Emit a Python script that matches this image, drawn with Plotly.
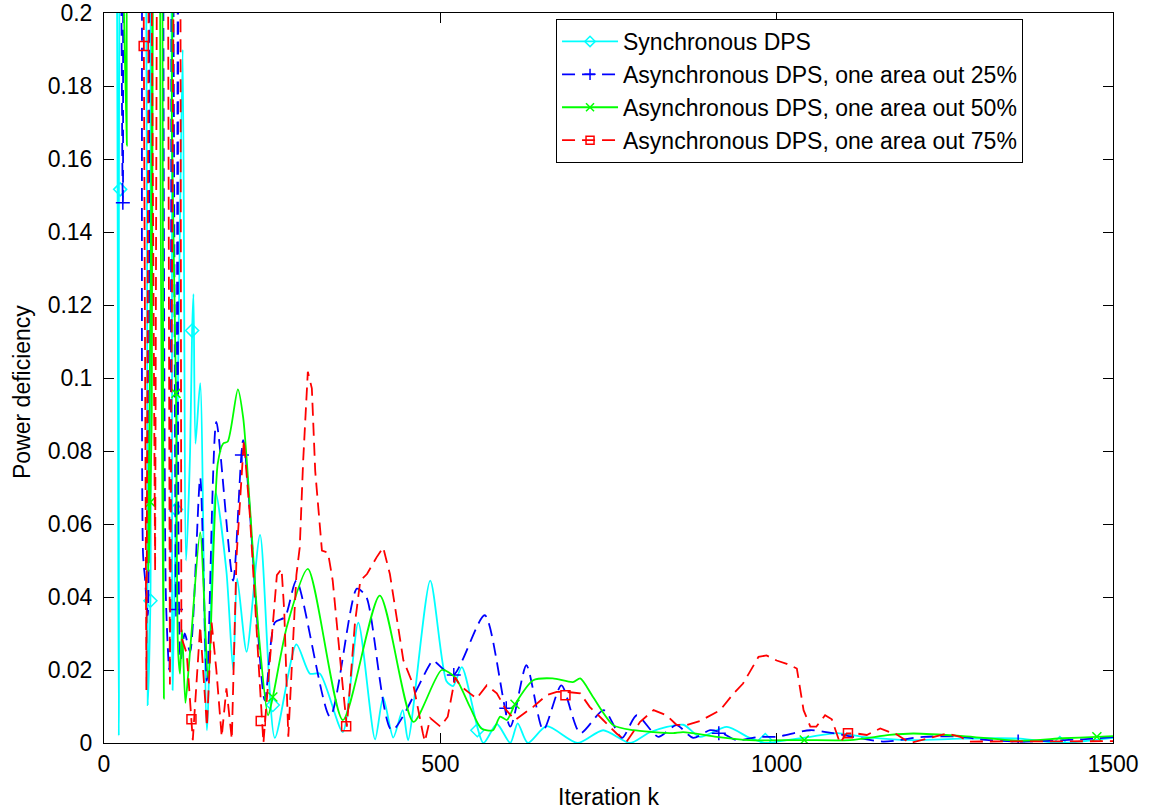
import plotly.graph_objects as go

# ---------------- data ----------------
series_names = [
    "Synchronous DPS",
    "Asynchronous DPS, one area out 25%",
    "Asynchronous DPS, one area out 50%",
    "Asynchronous DPS, one area out 75%",
]

sync_x = [0, 18, 22, 25, 46, 62, 65, 69, 71, 83, 98, 102, 110, 117, 122, 128, 131, 133, 136, 143, 153, 166,
          182, 192, 198, 212, 232, 254, 286, 306, 321, 355, 378, 403, 415, 430, 444, 452, 485, 509, 519, 532,
          564, 584, 604, 615, 630, 658, 704, 742, 782, 812, 861, 886, 926, 960, 985, 1005, 1050, 1090, 1128,
          1203, 1273, 1362, 1421, 1500]
sync_y = [0.45, 0.25, 0.002, 0.25, 0.35, 0.25, 0.0104, 0.039, 0.25, 0.30, 0.25, 0.0145, 0.10, 0.19, 0.05,
          0.08, 0.113, 0.123, 0.082, 0.0986, 0.0035, 0.0686, 0.047, 0.02, 0.045, 0.025, 0.057, 0.0014, 0.027,
          0.019, 0.019, 0.003, 0.033, 0.001, 0.0125, 0.0015, 0.009, 0.0008, 0.0445, 0.017, 0.0156, 0.0208,
          0.0, 0.0052, 0.0, 0.0054, 0.0, 0.0046, 0.0, 0.0035, 0.0, 0.003, 0.005, 0.0017, 0.0044, 0.0014, 0.0,
          0.0005, 0.0017, 0.0027, 0.0017, 0.0008, 0.0012, 0.0012, 0.0, 0.0014]

a25_x = [0, 21, 28, 31, 46, 55, 58, 61, 65, 70, 83, 92, 97, 101, 107, 111, 114, 120, 128, 143, 153, 167, 192,
         207, 239, 254, 269, 286, 336, 376, 390, 428, 489, 494, 519, 566, 604, 628, 653, 680, 708, 743, 770,
         792, 824, 851, 876, 901, 916, 940, 975, 1000, 1050, 1084, 1158, 1218, 1277, 1302, 1359, 1451, 1500]
a25_y = [0.4, 0.3, 0.148, 0.3, 0.35, 0.3, 0.052, 0.045, 0.035, 0.3, 0.35, 0.04, 0.02, 0.3, 0.0366, 0.3,
         0.0227, 0.03, 0.025, 0.0727, 0.017, 0.088, 0.0445, 0.083, 0.0117, 0.033, 0.0345, 0.0445, 0.0072,
         0.0423, 0.04, 0.0035, 0.0226, 0.022, 0.0186, 0.035, 0.0045, 0.0213, 0.0035, 0.0158, 0.0027, 0.009,
         0.0014, 0.0076, 0.0017, 0.0049, 0.0014, 0.0035, 0.003, 0.0008, 0.0017, 0.0017, 0.0035, 0.0027,
         0.0004, 0.0017, 0.0017, 0.001, 0.0004, 0.001, 0.0016]

a50_x = [0, 31, 34, 37, 55, 62, 66, 71, 74, 80, 86, 89, 93, 98, 101, 107, 110, 113, 116, 121, 125, 130, 143,
         155, 169, 177, 184, 199, 207, 217, 230, 244, 251, 272, 303, 355, 410, 460, 502, 522, 544, 561, 578,
         589, 599, 611, 638, 667, 697, 708, 727, 757, 787, 816, 846, 861, 911, 960, 1039, 1109, 1168, 1203,
         1277, 1362, 1426, 1476, 1500]
a50_y = [0.45, 0.3, 0.1636, 0.3, 0.3, 0.3, 0.047, 0.09, 0.3, 0.35, 0.25, 0.012, 0.3, 0.3, 0.168, 0.0958,
         0.026, 0.019, 0.031, 0.011, 0.0185, 0.03, 0.0577, 0.0177, 0.0764, 0.082, 0.0826, 0.0969, 0.089,
         0.0645, 0.03, 0.0076, 0.0126, 0.032, 0.0477, 0.0063, 0.0404, 0.0058, 0.02, 0.018, 0.0099, 0.004,
         0.0035, 0.0072, 0.0063, 0.0106, 0.0172, 0.0177, 0.0167, 0.0177, 0.0126, 0.0049, 0.0035, 0.003,
         0.0027, 0.003, 0.0017, 0.0008, 0.0008, 0.0008, 0.0022, 0.0026, 0.0019, 0.0006, 0.0013, 0.0017, 0.0019]

a75_x = [0, 39, 54, 58, 63, 68, 76, 80, 88, 94, 98, 106, 113, 115, 123, 130, 132, 143, 147, 153, 160, 167,
         175, 182, 190, 197, 208, 217, 232, 237, 247, 257, 264, 268, 274, 286, 291, 296, 303, 309, 314, 318,
         324, 333, 340, 355, 361, 373, 381, 391, 405, 415, 425, 435, 445, 460, 465, 474, 477, 485, 500, 511,
         522, 529, 544, 554, 569, 584, 598, 611, 638, 658, 673, 688, 708, 722, 742, 762, 777, 797, 817, 836,
         851, 866, 886, 906, 916, 936, 950, 973, 985, 1000, 1015, 1030, 1040, 1050, 1059, 1072, 1082, 1094,
         1104, 1119, 1134, 1154, 1168, 1173, 1198, 1253, 1273, 1285, 1312, 1332, 1387, 1421, 1451, 1500]
a75_y = [0.5, 0.4, 0.35, 0.25, 0.0145, 0.3, 0.047, 0.3, 0.3, 0.3, 0.016, 0.3, 0.3, 0.029, 0.0245, 0.0065,
         0.0008, 0.032, 0.02, 0.0045, 0.033, 0.02, 0.0017, 0.015, 0.001, 0.051, 0.083, 0.062, 0.015, 0.0,
         0.0235, 0.046, 0.0477, 0.036, 0.0017, 0.046, 0.0536, 0.077, 0.1017, 0.0972, 0.0745, 0.066, 0.0527,
         0.0522, 0.0445, 0.0154, 0.0045, 0.0327, 0.0445, 0.0463, 0.0508, 0.0536, 0.0463, 0.0345, 0.0227,
         0.0158, 0.0108, 0.0027, 0.0004, 0.0068, 0.0045, 0.0072, 0.018, 0.0158, 0.0136, 0.0122, 0.0158,
         0.0136, 0.009, 0.0063, 0.0099, 0.0131, 0.014, 0.014, 0.0136, 0.0099, 0.0063, 0.0026, 0.0004, 0.0058,
         0.009, 0.0076, 0.005, 0.0049, 0.006, 0.0081, 0.009, 0.0136, 0.0163, 0.0236, 0.024, 0.0226, 0.0217,
         0.0204, 0.009, 0.0045, 0.0045, 0.0076, 0.0065, 0.0, 0.0026, 0.0026, 0.0022, 0.004, 0.003, 0.003,
         0.0, 0.0026, 0.0017, 0.0004, 0.0004, 0.0006, 0.0005, 0.0006, 0.0005, 0.0005]

# marker positions
sync_mx = [24, 69, 107, 131, 251, 555, 983, 1421]
sync_my = [0.1517, 0.039, 0.064, 0.113, 0.0104, 0.0035, 0.0008, 0.0]
a25_mx = [28, 107, 205, 520, 598, 914, 1359]
a25_my = [0.148, 0.0366, 0.0789, 0.0186, 0.0095, 0.0027, 0.0004]
a50_mx = [69, 107, 251, 611, 1041, 1476]
a50_my = [0.066, 0.0958, 0.0126, 0.0106, 0.0008, 0.0017]
a75_mx = [59, 130, 233, 360, 686, 1106]
a75_my = [0.191, 0.0065, 0.006, 0.0046, 0.0131, 0.0027]

x_ticks = [0, 500, 1000, 1500]
x_tick_labels = ["0", "500", "1000", "1500"]
y_ticks = [0, 0.02, 0.04, 0.06, 0.08, 0.1, 0.12, 0.14, 0.16, 0.18, 0.2]
y_tick_labels = ["0", "0.02", "0.04", "0.06", "0.08", "0.1", "0.12", "0.14", "0.16", "0.18", "0.2"]
x_title = "Iteration k"
y_title = "Power deficiency"

for a, b in [(sync_x, sync_y), (a25_x, a25_y), (a50_x, a50_y), (a75_x, a75_y)]:
    assert len(a) == len(b), (len(a), len(b))

# ---------------- styles ----------------
FONT = "Liberation Sans, Arial, sans-serif"
LW = 1.8
styles = [
    dict(color="#00FFFF", dash="solid", symbol="diamond-open", shape="spline", xs=sync_x, ys=sync_y, mx=sync_mx, my=sync_my, ms=10),
    dict(color="#0000FF", dash="13px,7px", symbol="cross-thin-open", shape="spline", xs=a25_x, ys=a25_y, mx=a25_mx, my=a25_my, ms=10),
    dict(color="#00FF00", dash="solid", symbol="x-thin-open", shape="spline", xs=a50_x, ys=a50_y, mx=a50_mx, my=a50_my, ms=9),
    dict(color="#FF0000", dash="13px,7px", symbol="square-open", shape="linear", xs=a75_x, ys=a75_y, mx=a75_mx, my=a75_my, ms=9),
]

fig = go.Figure()
for name, s in zip(series_names, styles):
    fig.add_trace(go.Scatter(
        x=s["xs"], y=s["ys"], mode="lines", showlegend=False,
        line=dict(color=s["color"], width=LW, dash=s["dash"], shape=s["shape"],
                  smoothing=0.7 if s["shape"] == "spline" else None),
        hoverinfo="skip",
    ))
    fig.add_trace(go.Scatter(
        x=s["mx"], y=s["my"], mode="markers", showlegend=False,
        marker=dict(symbol=s["symbol"], size=s["ms"], color=s["color"], line=dict(color=s["color"], width=1.5)),
    ))
    fig.add_trace(go.Scatter(
        x=[None], y=[None], mode="lines+markers", name=name,
        line=dict(color=s["color"], width=LW, dash=s["dash"]),
        marker=dict(symbol=s["symbol"], size=8, color=s["color"], line=dict(color=s["color"], width=1.5)),
    ))

axis_common = dict(
    showgrid=False, zeroline=False, showline=True, linecolor="black", linewidth=1,
    mirror="ticks", ticks="inside", ticklen=10, tickcolor="black", tickwidth=1,
    tickfont=dict(family=FONT, size=23, color="black"), ticklabeloverflow="allow",
    automargin=False,
)

fig.update_layout(
    width=1153, height=811,
    margin=dict(l=104, r=40, t=13, b=68, autoexpand=False),
    paper_bgcolor="white", plot_bgcolor="white",
    font=dict(family=FONT, size=23, color="black"),
    xaxis=dict(range=[0, 1500], tickvals=x_ticks, ticktext=x_tick_labels, **axis_common),
    yaxis=dict(range=[0, 0.20002], tickvals=y_ticks, ticktext=y_tick_labels,
               ticklabelstandoff=6, **axis_common),
    legend=dict(x=0.448, y=0.9918, xanchor="left", yanchor="top", itemwidth=56,
                bgcolor="white", bordercolor="black", borderwidth=1,
                font=dict(family=FONT, size=23, color="black"), tracegroupgap=0),
    annotations=[
        dict(text=x_title, xref="paper", yref="paper", x=0.5, y=-0.074,
             xanchor="center", yanchor="middle", showarrow=False,
             font=dict(family=FONT, size=23, color="black")),
        dict(text=y_title, xref="paper", yref="paper", x=-0.0813, y=0.4808,
             xanchor="center", yanchor="middle", showarrow=False, textangle=-90,
             font=dict(family=FONT, size=23, color="black")),
    ],
)

fig.write_html("out.html")
